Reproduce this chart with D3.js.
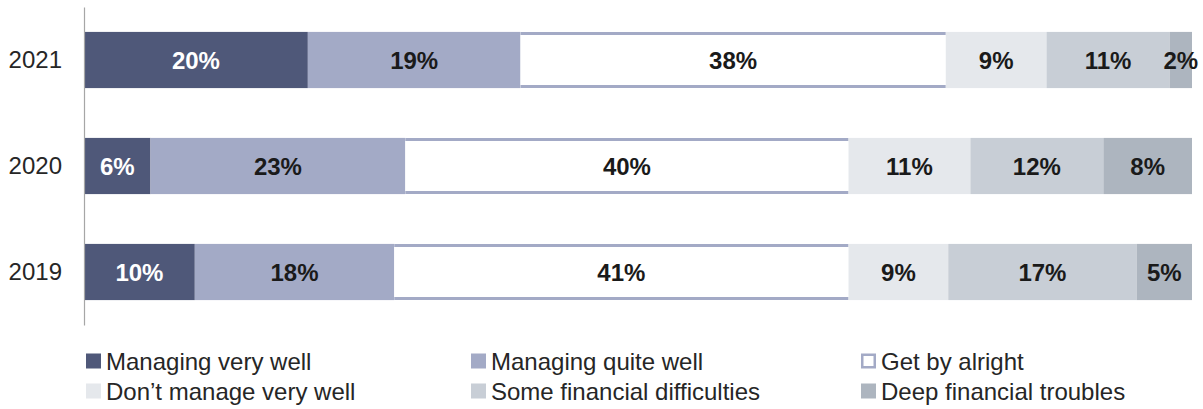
<!DOCTYPE html>
<html>
<head>
<meta charset="utf-8">
<script src="https://cdn.jsdelivr.net/npm/d3@7/dist/d3.min.js"></script>
<style>
  html, body { margin: 0; padding: 0; background: #fff; }
  svg { display: block; font-family: "Liberation Sans", Arial, sans-serif; }
</style>
</head>
<body>
<svg id="chart"></svg>
<script>
// Survey shares by year (percent, as printed on the bars)
const years = ["2021", "2020", "2019"];
const categories = [
  "Managing very well",
  "Managing quite well",
  "Get by alright",
  "Don\u2019t manage very well",
  "Some financial difficulties",
  "Deep financial troubles"
];
const veryWell     = [20, 6, 10];
const quiteWell    = [19, 23, 18];
const alright      = [38, 40, 41];
const dontManage   = [9, 11, 9];
const difficulties = [11, 12, 17];
const deepTroubles = [2, 8, 5];

const seriesValues = [veryWell, quiteWell, alright, dontManage, difficulties, deepTroubles];
const colors = ["#4f5879", "#a3aac6", "#ffffff", "#e5e8ec", "#c8ced6", "#adb5bf"];
const textColors = ["#ffffff", "#1a1a1a", "#1a1a1a", "#1a1a1a", "#1a1a1a", "#1a1a1a"];
const outline = "#a3aac6";

const W = 1203, H = 409;
const margin = { top: 7, right: 11, bottom: 84, left: 84 };

const rows = years.map((yr, i) => {
  const r = { year: yr };
  categories.forEach((c, j) => { r[c] = seriesValues[j][i]; });
  return r;
});

const stack = d3.stack().keys(categories).offset(d3.stackOffsetExpand);
const layers = stack(rows);

const svg = d3.select("#chart").attr("width", W).attr("height", H);

const x = d3.scaleLinear().domain([0, 1]).range([margin.left, W - margin.right]);
const y = d3.scaleBand().domain(years)
  .range([margin.top, H - margin.bottom])
  .paddingInner(0.47).paddingOuter(0.235);

const color = d3.scaleOrdinal().domain(categories).range(colors);

// bars
const layerG = svg.append("g").selectAll("g")
  .data(layers)
  .join("g");

layerG.each(function(layer, j) {
  const g = d3.select(this);
  g.selectAll("rect")
    .data(layer)
    .join("rect")
    .attr("x", d => x(d[0]))
    .attr("y", d => y(d.data.year))
    .attr("width", d => x(d[1]) - x(d[0]))
    .attr("height", y.bandwidth())
    .attr("fill", colors[j]);

  // the white segment only gets a top and bottom edge
  if (colors[j] === "#ffffff") {
    g.selectAll("path.edge")
      .data(layer)
      .join("path")
      .attr("class", "edge")
      .attr("d", d => {
        const x0 = x(d[0]), x1 = x(d[1]);
        const t = y(d.data.year) + 1.5, b = y(d.data.year) + y.bandwidth() - 1.5;
        return "M" + x0 + "," + t + "H" + x1 + "M" + x0 + "," + b + "H" + x1;
      })
      .attr("stroke", outline)
      .attr("stroke-width", 3)
      .attr("fill", "none");
  }

  g.selectAll("text")
    .data(layer)
    .join("text")
    .attr("x", d => (x(d[0]) + x(d[1])) / 2)
    .attr("y", d => y(d.data.year) + y.bandwidth() / 2)
    .attr("dy", "0.36em")
    .attr("text-anchor", "middle")
    .style("font-size", "24px")
    .style("font-weight", "bold")
    .style("fill", textColors[j])
    .text(d => d.data[layer.key] + "%");
});

// category axis
const axis = svg.append("g")
  .attr("transform", "translate(" + margin.left + ",0)")
  .call(d3.axisLeft(y).tickSize(0).tickPadding(22));
axis.select(".domain").attr("stroke", "#a6a6a6").attr("stroke-width", 1.2);
axis.selectAll("text")
  .style("font-size", "24px")
  .style("font-family", "'Liberation Sans', Arial, sans-serif")
  .style("fill", "#262626");

// legend
const colX = [86, 471, 861];
const rowY = [361, 391];
const legend = svg.append("g").selectAll("g")
  .data(categories)
  .join("g")
  .attr("transform", (d, i) => "translate(" + colX[i % 3] + "," + rowY[Math.floor(i / 3)] + ")");

legend.append("rect")
  .attr("x", d => color(d) === "#ffffff" ? 1.25 : 0)
  .attr("y", d => color(d) === "#ffffff" ? -6.25 : -7.5)
  .attr("width", d => color(d) === "#ffffff" ? 12.5 : 15)
  .attr("height", d => color(d) === "#ffffff" ? 12.5 : 15)
  .attr("fill", d => color(d))
  .attr("stroke", d => color(d) === "#ffffff" ? outline : "none")
  .attr("stroke-width", 2.5);

legend.append("text")
  .attr("x", 20)
  .attr("dy", "0.36em")
  .style("font-size", "24px")
  .style("fill", "#262626")
  .text(d => d);
</script>
</body>
</html>
